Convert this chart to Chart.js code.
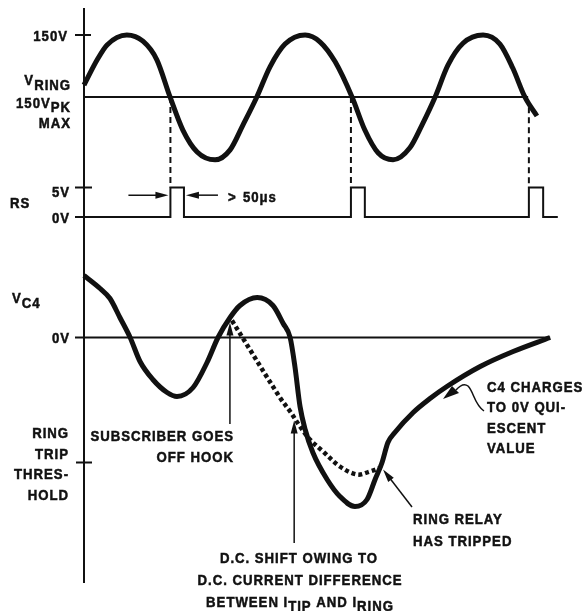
<!DOCTYPE html>
<html>
<head>
<meta charset="utf-8">
<title>Ring trip timing</title>
<script src="https://cdn.jsdelivr.net/npm/chart.js@4.4.1/dist/chart.umd.min.js"></script>
<style>
  html, body { margin: 0; padding: 0; background: #fff; }
  canvas { display: block; }
</style>
</head>
<body>
<canvas id="myChart" width="584" height="611"></canvas>
<script>
// time in ms (20 Hz ringing)
var ringTime  = [0, 3.6, 6.3, 11.7, 16.1, 19.9, 23.5, 27.0, 30.9, 35.8, 39.9, 43.4, 47.2, 50.8, 54.9, 60.4,
                 64.5, 68.6, 73.2, 76.7, 80.3, 84.4, 89.0, 92.3, 95.9, 99.4, 103.5, 109.0, 113.6, 117.1, 120.4, 123.7];
var ringVolts = [29, 90, 126, 150, 135, 90, 0, -80, -133, -152, -128, -68, 0, 73, 128, 150,
                 133, 85, 0, -80, -135, -152, -123, -68, 0, 77, 130, 150, 128, 70, 0, -46];
var ringZeroEnd = 121.3;

// RS output pulses (V)
var rsTime  = [0, 23.6, 23.6, 27.3, 27.3, 72.9, 72.9, 76.7, 76.7, 121.5, 121.5, 125.4, 125.4, 129.4];
var rsVolts = [0, 0, 5, 5, 0, 0, 5, 5, 0, 0, 5, 5, 0, 0];
var pulseTimes = [23.6, 72.9, 121.5];
var pulseFrom  = [0, 0, -25];   // where each dashed drop leaves V_RING

// V_C4 (arbitrary units, 0 = 0V, -12.5 = ring trip threshold)
var c4Time  = [0, 4.4, 7.1, 9.8, 12.6, 15.3, 18.8, 22.7, 25.4, 29.8, 33.6, 36.6, 39.9, 42.6, 47.3, 51.6,
               54.4, 56.3, 57.6, 59.0, 60.4, 62.5, 66.4, 69.9, 74.0, 77.3, 79.5, 81.4, 83.0, 84.9,
               89.9, 94.5, 99.1, 108.2, 117.2, 127.3];
var c4Volts = [6.2, 4.9, 3.9, 2.0, 0, -2.4, -4.2, -5.5, -5.9, -5.0, -2.5, 0, 2.0, 3.2, 4.0, 3.2,
               1.4, 0, -2.9, -6.9, -9.2, -11.5, -14.2, -15.9, -16.9, -16.2, -14.2, -12.5, -10.5, -9.5,
               -7.5, -6.1, -4.9, -2.9, -1.4, 0];
var c4ZeroEnd = 127.3;
var threshold = -12.5;

// dotted V_C4 with the d.c. shift
var shiftTime  = [40.4, 53.5, 56.3, 59.0, 61.7, 65.3, 69.9, 74.6, 78.1, 81.1];
var shiftVolts = [1.7, -6.0, -7.4, -8.9, -10.2, -11.4, -12.9, -13.7, -13.4, -13.0];

var INK = '#111';
var FONT = 'bold 15px "Liberation Sans", Arial, sans-serif';
var SX = 0.88;   // squeeze glyphs to look like a condensed face

function pts(xs, ys) {
    return xs.map(function (x, i) { return { x: x, y: ys[i] }; });
}

function runs(ctx, parts, x, y, align) {
    // parts: [text, drop]
    var w = 0;
    parts.forEach(function (p) { w += ctx.measureText(p[0]).width * SX; });
    var cx = align === 'right' ? x - w : (align === 'center' ? x - w / 2 : x);
    ctx.textAlign = 'left';
    parts.forEach(function (p) {
        ctx.save();
        ctx.translate(cx, y + p[1]);
        ctx.scale(SX, 1);
        ctx.fillText(p[0], 0, 0);
        ctx.lineWidth = 0.5;
        ctx.strokeText(p[0], 0, 0);
        ctx.restore();
        cx += ctx.measureText(p[0]).width * SX;
    });
}

function arrow(ctx, x1, y1, x2, y2) {
    var a = Math.atan2(y2 - y1, x2 - x1);
    var c = Math.cos(a), s = Math.sin(a);
    ctx.beginPath();
    ctx.moveTo(x1, y1);
    ctx.lineTo(x2 - 8 * c, y2 - 8 * s);
    ctx.stroke();
    ctx.beginPath();
    ctx.moveTo(x2, y2);
    ctx.lineTo(x2 - 13 * c + 3.5 * s, y2 - 13 * s - 3.5 * c);
    ctx.lineTo(x2 - 13 * c - 3.5 * s, y2 - 13 * s + 3.5 * c);
    ctx.closePath();
    ctx.fill();
}

var drawing = {
    id: 'drawing',
    beforeDraw: function (chart) {
        var ctx = chart.ctx;
        ctx.save();
        ctx.fillStyle = '#fff';
        ctx.fillRect(0, 0, chart.width, chart.height);
        ctx.restore();
    },
    afterDatasetsDraw: function (chart) {
        var ctx = chart.ctx, area = chart.chartArea;
        var xs = chart.scales.x, yr = chart.scales.yRing, ys = chart.scales.yRS, yc = chart.scales.yC4;
        var L = area.left;
        ctx.save();
        ctx.strokeStyle = INK;
        ctx.fillStyle = INK;
        ctx.lineWidth = 2;

        // axis + ticks
        ctx.beginPath();
        ctx.moveTo(L, area.top); ctx.lineTo(L, area.bottom);
        ctx.moveTo(L - 9, yr.getPixelForValue(150)); ctx.lineTo(L + 7, yr.getPixelForValue(150));
        ctx.moveTo(L - 9, ys.getPixelForValue(5)); ctx.lineTo(L + 8, ys.getPixelForValue(5));
        ctx.moveTo(L - 9, ys.getPixelForValue(0)); ctx.lineTo(L, ys.getPixelForValue(0));
        ctx.moveTo(L - 9, yc.getPixelForValue(0)); ctx.lineTo(L, yc.getPixelForValue(0));
        ctx.moveTo(L - 8, yc.getPixelForValue(threshold)); ctx.lineTo(L + 8, yc.getPixelForValue(threshold));
        ctx.stroke();

        // dashed drops from zero crossings to RS pulses
        ctx.setLineDash([6, 4]);
        pulseTimes.forEach(function (t, i) {
            var px = xs.getPixelForValue(t);
            ctx.beginPath();
            ctx.moveTo(px, yr.getPixelForValue(pulseFrom[i]));
            ctx.lineTo(px, ys.getPixelForValue(5));
            ctx.stroke();
        });
        ctx.setLineDash([]);

        // > 50us markers
        var pL = xs.getPixelForValue(rsTime[1]), pR = xs.getPixelForValue(rsTime[3]);
        var ay = ys.getPixelForValue(3.7);
        ctx.lineWidth = 1.5;
        arrow(ctx, pL - 42, ay, pL - 2, ay);
        arrow(ctx, pR + 34, ay, pR + 2, ay);

        // annotation arrows on V_C4
        var sx = xs.getPixelForValue(shiftTime[0]) - 2;
        arrow(ctx, sx, 424, sx, yc.getPixelForValue(1.5));
        var dx = xs.getPixelForValue(57.4);
        arrow(ctx, dx, 543, dx, yc.getPixelForValue(-8.3));
        arrow(ctx, 412, 507, xs.getPixelForValue(81.4) + 1, yc.getPixelForValue(-13.2));

        // curly arrow for C4 charging
        ctx.beginPath();
        ctx.moveTo(484, 411);
        ctx.bezierCurveTo(474, 404, 474, 392, 468, 386);
        ctx.quadraticCurveTo(463, 382, 456, 390);
        ctx.stroke();
        ctx.beginPath();
        ctx.moveTo(443, 399);
        ctx.lineTo(452, 386);
        ctx.lineTo(459, 393);
        ctx.closePath();
        ctx.fill();

        // text
        ctx.font = FONT;
        ctx.letterSpacing = '1.1px';
        ctx.textBaseline = 'alphabetic';
        runs(ctx, [['150V', 0]], 68, yr.getPixelForValue(150) + 6, 'right');
        runs(ctx, [['V', 0], ['RING', 5]], 71, 85, 'right');
        runs(ctx, [['150V', 0], ['PK', 4]], 71, 108, 'right');
        runs(ctx, [['MAX', 0]], 71, 128, 'right');
        runs(ctx, [['5V', 0]], 70, ys.getPixelForValue(5) + 9.5, 'right');
        runs(ctx, [['RS', 0]], 10, 208, 'left');
        runs(ctx, [['0V', 0]], 70, ys.getPixelForValue(0) + 6, 'right');
        runs(ctx, [['V', 0], ['C4', 5]], 12, 303, 'left');
        runs(ctx, [['0V', 0]], 70, yc.getPixelForValue(0) + 5.5, 'right');
        ['RING', 'TRIP', 'THRES-', 'HOLD'].forEach(function (t, i) {
            runs(ctx, [[t, 0]], 69, 438 + i * 20.7, 'right');
        });
        runs(ctx, [['>', 0]], pR + 44, 202, 'left');
        runs(ctx, [['50\u03bcs', 0]], pR + 59, 202, 'left');

        runs(ctx, [['SUBSCRIBER GOES', 0]], 234, 441, 'right');
        runs(ctx, [['OFF HOOK', 0]], 234, 462, 'right');

        runs(ctx, [['C4 CHARGES', 0]], 487, 392, 'left');
        runs(ctx, [['TO 0V QUI-', 0]], 487, 412, 'left');
        runs(ctx, [['ESCENT', 0]], 487, 433, 'left');
        runs(ctx, [['VALUE', 0]], 487, 453, 'left');

        runs(ctx, [['RING RELAY', 0]], 413, 524, 'left');
        runs(ctx, [['HAS TRIPPED', 0]], 413, 546, 'left');

        runs(ctx, [['D.C. SHIFT OWING TO', 0]], 299, 563, 'center');
        runs(ctx, [['D.C. CURRENT DIFFERENCE', 0]], 300, 585, 'center');
        runs(ctx, [['BETWEEN I', 0], ['TIP', 4], [' AND I', 0], ['RING', 4]], 300, 607, 'center');
        ctx.restore();
    }
};

var ctx = document.getElementById('myChart').getContext('2d');
var line = { pointRadius: 0, borderColor: INK, fill: false, clip: false };

var myChart = new Chart(ctx, {
    type: 'line',
    data: {
        datasets: [
            Object.assign({ label: 'V RING', data: pts(ringTime, ringVolts), yAxisID: 'yRing',
                borderWidth: 5, cubicInterpolationMode: 'monotone' }, line),
            Object.assign({ label: 'V RING 0', data: pts([0, ringZeroEnd], [0, 0]), yAxisID: 'yRing',
                borderWidth: 2 }, line),
            Object.assign({ label: 'RS', data: pts(rsTime, rsVolts), yAxisID: 'yRS',
                borderWidth: 2 }, line),
            Object.assign({ label: 'V C4 0', data: pts([0, c4ZeroEnd], [0, 0]), yAxisID: 'yC4',
                borderWidth: 2 }, line),
            Object.assign({ label: 'V C4', data: pts(c4Time, c4Volts), yAxisID: 'yC4',
                borderWidth: 5, cubicInterpolationMode: 'monotone' }, line),
            Object.assign({ label: 'V C4 shifted', data: pts(shiftTime, shiftVolts), yAxisID: 'yC4',
                borderWidth: 4.5, borderDash: [4, 3], tension: 0.35 }, line)
        ]
    },
    options: {
        responsive: false,
        animation: false,
        layout: { padding: { left: 84, top: 8, right: 24, bottom: 28 } },
        plugins: { legend: { display: false }, tooltip: { enabled: false } },
        scales: {
            x: { type: 'linear', min: 0, max: 130, display: false },
            yRing: { min: -1175.8, max: 215.3, display: false },
            yRS: { min: -62.03, max: 35.42, display: false },
            yC4: { min: -24.55, max: 32.95, display: false }
        }
    },
    plugins: [drawing]
});
</script>
</body>
</html>
